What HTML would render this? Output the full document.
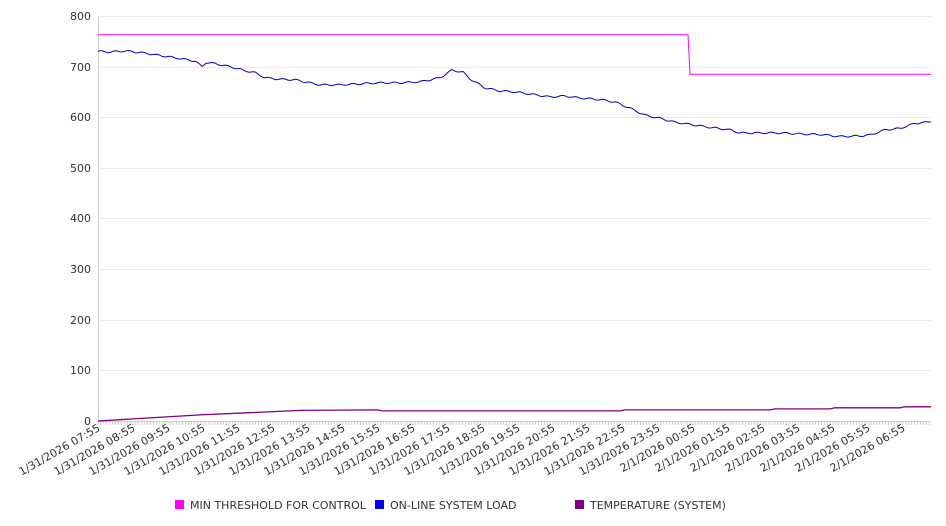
<!DOCTYPE html>
<html><head><style>body{margin:0;background:#fff}svg{display:block;font-family:"DejaVu Sans","Liberation Sans",sans-serif}</style></head>
<body>
<svg width="946" height="526" xmlns="http://www.w3.org/2000/svg">
<g stroke="#ebebeb" stroke-width="1">
<line x1="98" x2="931" y1="16.5" y2="16.5"/><line x1="98" x2="931" y1="67.5" y2="67.5"/><line x1="98" x2="931" y1="117.5" y2="117.5"/><line x1="98" x2="931" y1="168.5" y2="168.5"/><line x1="98" x2="931" y1="218.5" y2="218.5"/><line x1="98" x2="931" y1="269.5" y2="269.5"/><line x1="98" x2="931" y1="320.5" y2="320.5"/><line x1="98" x2="931" y1="370.5" y2="370.5"/>
</g>
<line x1="98.5" x2="98.5" y1="16" y2="421" stroke="#ccc"/>
<line x1="98" x2="931" y1="421.5" y2="421.5" stroke="#ccc"/>
<g fill="#333" font-size="11" text-anchor="end">
<text x="91" y="20">800</text><text x="91" y="71">700</text><text x="91" y="121">600</text><text x="91" y="172">500</text><text x="91" y="222">400</text><text x="91" y="273">300</text><text x="91" y="324">200</text><text x="91" y="374">100</text><text x="91" y="425">0</text>
</g>
<g id="ticks" stroke="#ccc"></g>
<g id="lbl" fill="#333" font-size="11" text-anchor="end"></g>
<polyline fill="none" stroke="#ff00ff" stroke-width="1" points="98,34.7 688,34.7 690,74.2 931,74.2"/>
<polyline fill="none" stroke="#0000cc" stroke-width="1" id="blue"/>
<polyline fill="none" stroke="#800080" stroke-width="1.3" id="temp"/>
<g font-size="11" fill="#333">
<rect x="175" y="500" width="9" height="9" fill="#ff00ff"/><text x="190" y="509">MIN THRESHOLD FOR CONTROL</text>
<rect x="375" y="500" width="9" height="9" fill="#0000ff"/><text x="390" y="509">ON-LINE SYSTEM LOAD</text>
<rect x="575" y="500" width="9" height="9" fill="#800080"/><text x="590" y="509">TEMPERATURE (SYSTEM)</text>
</g>
</svg>
<script>
function Y(v){return (421-v*0.50625).toFixed(1)}
var b=[[98,730],[110,729],[125,731],[140,728],[160,722],[180,716],[195,711],[202,700],[206,708],[215,706],[230,700],[245,692],[255,688],[265,678],[280,675],[295,674],[310,668],[320,664],[340,664],[360,666],[380,668],[400,668],[420,670],[440,678],[452,693],[463,689],[470,676],[485,658],[500,652],[515,650],[530,646],[550,640],[565,642],[580,638],[600,635],[615,630],[630,618],[645,604],[660,598],[675,590],[690,586],[710,580],[730,575],[740,569],[760,569],[780,569],[800,567],[820,566],[840,562],[860,563],[870,565],[885,575],[900,578],[915,588],[931,591]];
var pts=[];
for(var i=0;i<b.length-1;i++){var a=b[i],c=b[i+1];for(var x=a[0];x<c[0];x+=2){var t=(x-a[0])/(c[0]-a[0]);var v=a[1]+(c[1]-a[1])*t+Math.sin(x*0.45)*1.6;pts.push(x+','+Y(v));}}
pts.push('931,'+Y(591));
document.getElementById('blue').setAttribute('points',pts.join(' '));
var tp=[[98,0],[200,12],[300,21],[378,22],[382,20],[620,20],[625,22],[770,22],[775,24],[830,24],[835,26],[900,26],[905,28],[931,28]];
document.getElementById('temp').setAttribute('points',tp.map(function(p){return p[0]+','+Y(p[1])}).join(' '));
var tk='',lb='';
for(var x=98;x<=931;x+=35/12){tk+='<line x1="'+x.toFixed(1)+'" x2="'+x.toFixed(1)+'" y1="421" y2="425"/>';}
document.getElementById('ticks').innerHTML=tk;
var hrs=['07','08','09','10','11','12','13','14','15','16','17','18','19','20','21','22','23','00','01','02','03','04','05','06'];
for(var i=0;i<24;i++){var x=98+i*35;var d=i<17?'1/31/2026 ':'2/1/2026 ';lb+='<text transform="translate('+(x+3)+',430) rotate(-30)">'+d+hrs[i]+':55</text>';}
document.getElementById('lbl').innerHTML=lb;
</script>
</body></html>
